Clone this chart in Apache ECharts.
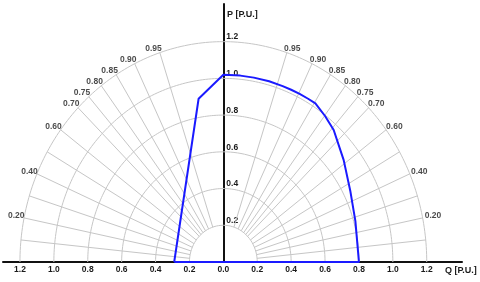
<!DOCTYPE html>
<html>
<head>
<meta charset="utf-8">
<script src="https://cdn.jsdelivr.net/npm/echarts@6/dist/echarts.min.js"></script>
<style>html,body{margin:0;padding:0;background:#fff}#c{width:480px;height:282px}</style>
</head>
<body>
<div id="c"></div>
<script>
// ---- data ----
const qTicks = [-1.2, -1.0, -0.8, -0.6, -0.4, -0.2, 0.0, 0.2, 0.4, 0.6, 0.8, 1.0, 1.2];
const pTicks = [0.2, 0.4, 0.6, 0.8, 1.0, 1.2];
const radii = [0.2, 0.4, 0.6, 0.8, 1.0, 1.2];
const pfLines = [0.1, 0.2, 0.3, 0.4, 0.5, 0.6, 0.7, 0.75, 0.8, 0.85, 0.9, 0.95];
const pfLabels = [0.2, 0.4, 0.6, 0.7, 0.75, 0.8, 0.85, 0.9, 0.95];
const capQ = [-0.29, -0.146, 0.0, 0.10, 0.18, 0.27, 0.35, 0.40, 0.45, 0.50, 0.543, 0.60, 0.651, 0.71, 0.749, 0.779, 0.80, -0.29];
const capP = [0.0, 0.889, 1.02, 1.015, 1.004, 0.984, 0.958, 0.938, 0.915, 0.889, 0.864, 0.795, 0.719, 0.555, 0.387, 0.223, 0.0, 0.0];

// ---- build ----
const GRID = '#c6c6c6';
const TXT = '#1a1a1a';
const FONT = 'Liberation Sans, Arial, sans-serif';
const X_MIN = -1.3, X_MAX = 1.408, G_LEFT = 3, G_RIGHT = 18;
const series = [];
const rOuter = radii[radii.length - 1], rInner = radii[0];
radii.forEach(r => {
  const pts = [];
  for (let i = 0; i <= 180; i++) {
    const a = Math.PI * i / 180;
    pts.push([-r * Math.cos(a), r * Math.sin(a)]);
  }
  series.push({type: 'line', data: pts, showSymbol: false, silent: true, z: 1,
    lineStyle: {color: GRID, width: 1}});
});
pfLines.forEach(pf => {
  const s = Math.sqrt(1 - pf * pf);
  [-1, 1].forEach(sg => {
    series.push({type: 'line', showSymbol: false, silent: true, z: 1,
      data: [[sg * rInner * s, rInner * pf], [sg * rOuter * s, rOuter * pf]],
      lineStyle: {color: GRID, width: 1}});
  });
});
const labData = [];
pfLabels.forEach(pf => {
  const s = Math.sqrt(1 - pf * pf);
  labData.push({value: [-rOuter * s, rOuter * pf], name: pf.toFixed(2),
    label: {position: 'left', distance: 0, offset: [2 * pf, -(1.5 + 3 * pf)]}});
  labData.push({value: [rOuter * s, rOuter * pf], name: pf.toFixed(2),
    label: {position: 'right', distance: 0, offset: [-4 * pf + 3 * s, -(1.5 + 3 * pf)]}});
});
series.push({type: 'scatter', data: labData, symbolSize: 0, silent: true, z: 3,
  label: {show: true, formatter: p => p.name, color: TXT, fontSize: 8.5,
    fontWeight: 'bold', fontFamily: FONT}});
series.push({type: 'line', data: capQ.map((q, i) => [q, capP[i]]), showSymbol: false,
  z: 5, lineStyle: {color: '#1a1aff', width: 2}});

function isTick(v, list) { return list.some(t => Math.abs(t - v) < 1e-6); }

const gridW = 480 - G_LEFT - G_RIGHT;
const zeroOffset = -(0 - X_MIN) / (X_MAX - X_MIN) * gridW;

const chart = echarts.init(document.getElementById('c'), null, {renderer: 'canvas'});
chart.setOption({
  animation: false,
  backgroundColor: '#fff',
  grid: {left: G_LEFT, right: G_RIGHT, top: 4, bottom: 20, containLabel: false},
  xAxis: {type: 'value', min: X_MIN, max: X_MAX, interval: 0.1,
    axisLine: {onZero: true, lineStyle: {color: '#111', width: 2}},
    axisTick: {show: false}, splitLine: {show: false},
    axisLabel: {margin: 3, color: TXT, fontSize: 8.5, fontWeight: 'bold',
      fontFamily: FONT, showMaxLabel: false, showMinLabel: false,
      formatter: v => isTick(v, qTicks) ? Math.abs(v).toFixed(1) : ''}},
  yAxis: {type: 'value', min: 0, max: 1.405, interval: 0.2, position: 'left', offset: zeroOffset,
    axisLine: {onZero: false, lineStyle: {color: '#111', width: 2}},
    axisTick: {show: false}, splitLine: {show: false},
    axisLabel: {inside: true, margin: 3, align: 'left', verticalAlign: 'bottom', color: TXT,
      fontSize: 8.5, fontWeight: 'bold', fontFamily: FONT,
      showMaxLabel: false, showMinLabel: false,
      formatter: v => isTick(v, pTicks) ? v.toFixed(1) : ''}},
  graphic: [
    {type: 'text', left: 445, top: 266, style: {text: 'Q [P.U.]', fill: TXT,
      font: 'bold 9px "Liberation Sans", Arial, sans-serif'}},
    {type: 'text', left: 227, top: 10, style: {text: 'P [P.U.]', fill: TXT,
      font: 'bold 9px "Liberation Sans", Arial, sans-serif'}}
  ],
  series: series
});
</script>
</body>
</html>
